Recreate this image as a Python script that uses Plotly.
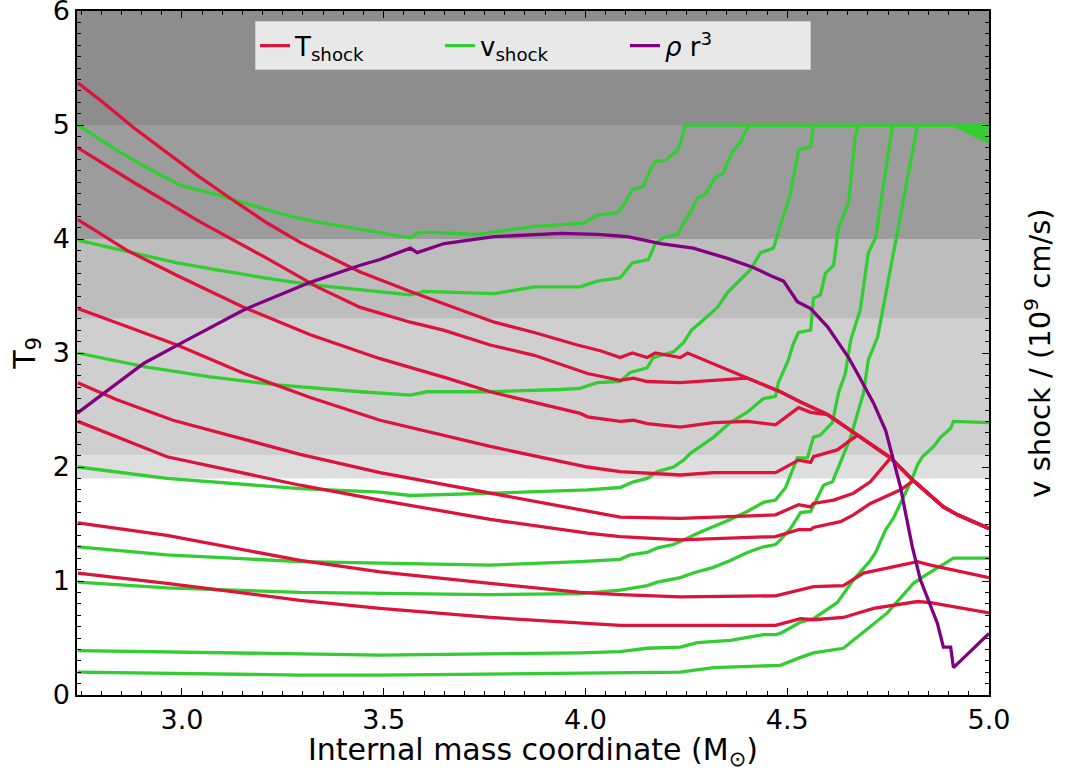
import plotly.graph_objects as go

# ---------------- data ----------------
# common descending branch that the T_shock curves join at large mass
env_m = [4.253, 4.401, 4.483, 4.533, 4.600, 4.674, 4.756, 4.813, 4.887, 4.922, 5.0]
env_T = [3.00, 2.78, 2.66, 2.57, 2.46, 2.28, 2.08, 1.88, 1.65, 1.58, 1.46]

# T_shock (T9) curves
r1_m = [2.742, 2.797, 2.879, 2.963, 3.045, 3.127, 3.211, 3.293, 3.442, 3.566, 3.690, 3.774, 3.873, 3.980, 4.037, 4.086, 4.116, 4.153, 4.173, 4.235, 4.253]
r1_T = [5.37, 5.22, 4.98, 4.76, 4.54, 4.34, 4.14, 3.97, 3.71, 3.54, 3.38, 3.27, 3.18, 3.07, 3.02, 2.96, 3.00, 2.96, 3.00, 2.96, 3.00]
r2_m = [2.742, 2.879, 3.045, 3.211, 3.335, 3.442, 3.566, 3.648, 3.764, 3.873, 4.005, 4.086, 4.119, 4.153, 4.235, 4.317, 4.401]
r2_T = [4.80, 4.50, 4.15, 3.83, 3.58, 3.40, 3.27, 3.20, 3.07, 2.98, 2.82, 2.76, 2.78, 2.75, 2.74, 2.76, 2.78]
r3_m = [2.742, 2.864, 2.988, 3.154, 3.318, 3.491, 3.657, 3.764, 3.821, 3.987, 4.005, 4.086, 4.119, 4.153, 4.235, 4.317, 4.401, 4.471, 4.528, 4.558, 4.600]
r3_T = [4.17, 3.90, 3.68, 3.40, 3.16, 2.95, 2.78, 2.66, 2.61, 2.47, 2.44, 2.40, 2.41, 2.38, 2.35, 2.39, 2.40, 2.37, 2.52, 2.48, 2.46]
r4_m = [2.742, 2.988, 3.154, 3.318, 3.491, 3.764, 4.005, 4.086, 4.235, 4.317, 4.471, 4.528, 4.558, 4.565, 4.624, 4.674]
r4_T = [3.39, 3.07, 2.82, 2.61, 2.41, 2.18, 2.00, 1.96, 1.93, 1.95, 1.95, 2.06, 2.04, 2.09, 2.15, 2.28]
r5_m = [2.742, 2.839, 2.978, 3.293, 3.491, 3.764, 4.005, 4.086, 4.235, 4.471, 4.528, 4.558, 4.565, 4.615, 4.664, 4.706, 4.756]
r5_T = [2.74, 2.59, 2.41, 2.11, 1.95, 1.77, 1.61, 1.56, 1.55, 1.58, 1.67, 1.65, 1.68, 1.71, 1.77, 1.87, 2.08]
r6_m = [2.742, 2.963, 3.293, 3.491, 3.764, 4.005, 4.086, 4.235, 4.471, 4.528, 4.558, 4.565, 4.632, 4.664, 4.706, 4.748, 4.781, 4.813]
r6_T = [2.40, 2.09, 1.84, 1.71, 1.54, 1.42, 1.39, 1.36, 1.39, 1.45, 1.45, 1.47, 1.52, 1.58, 1.68, 1.75, 1.80, 1.88]
r7_m = [2.742, 2.963, 3.293, 3.491, 3.764, 3.987, 4.086, 4.235, 4.471, 4.533, 4.565, 4.639, 4.689, 4.756, 4.823, 4.855, 5.0]
r7_T = [1.51, 1.40, 1.18, 1.08, 0.98, 0.90, 0.88, 0.86, 0.87, 0.92, 0.95, 0.96, 1.07, 1.12, 1.17, 1.14, 1.03]
r8_m = [2.742, 2.963, 3.293, 3.491, 3.764, 3.987, 4.086, 4.235, 4.471, 4.533, 4.565, 4.639, 4.714, 4.823, 4.855, 5.0]
r8_T = [1.07, 0.98, 0.83, 0.76, 0.68, 0.63, 0.61, 0.61, 0.61, 0.67, 0.66, 0.68, 0.76, 0.82, 0.81, 0.72]

# v_shock (1e9 cm/s) curves
g1_m = [2.742, 2.797, 2.847, 2.921, 2.997, 3.087, 3.169, 3.226, 3.293, 3.335, 3.417, 3.566, 3.583, 3.608, 3.732, 3.873, 3.997, 4.029, 4.079, 4.099, 4.116, 4.143, 4.161, 4.173, 4.198, 4.228, 4.235, 4.248, 5.0]
g1_v = [5.00, 4.87, 4.76, 4.61, 4.47, 4.39, 4.30, 4.24, 4.18, 4.15, 4.10, 4.01, 4.05, 4.06, 4.04, 4.11, 4.14, 4.21, 4.23, 4.32, 4.43, 4.46, 4.61, 4.68, 4.69, 4.78, 4.84, 5.00, 5.00]
g2_m = [2.742, 2.864, 2.988, 3.087, 3.204, 3.318, 3.459, 3.566, 3.600, 3.774, 3.873, 3.987, 4.029, 4.086, 4.116, 4.156, 4.173, 4.193, 4.228, 4.243, 4.263, 4.277, 4.297, 4.322, 4.342, 4.352, 4.367, 4.384, 4.396, 4.409, 4.912, 5.0]
g2_v = [3.99, 3.89, 3.79, 3.73, 3.66, 3.60, 3.55, 3.51, 3.54, 3.52, 3.58, 3.58, 3.63, 3.66, 3.79, 3.82, 3.96, 4.01, 4.04, 4.14, 4.25, 4.36, 4.39, 4.54, 4.58, 4.67, 4.78, 4.85, 4.94, 5.00, 5.00, 4.97]
g3_m = [2.742, 2.906, 3.070, 3.236, 3.442, 3.566, 3.608, 3.764, 3.938, 3.987, 4.029, 4.086, 4.111, 4.153, 4.168, 4.218, 4.243, 4.263, 4.292, 4.327, 4.352, 4.384, 4.409, 4.434, 4.466, 4.483, 4.508, 4.528, 4.558, 4.565, 4.912, 5.0]
g3_v = [3.00, 2.88, 2.79, 2.72, 2.66, 2.63, 2.66, 2.66, 2.68, 2.69, 2.74, 2.75, 2.83, 2.87, 2.96, 3.01, 3.09, 3.20, 3.29, 3.40, 3.53, 3.64, 3.73, 3.88, 3.92, 4.12, 4.40, 4.78, 4.81, 5.00, 5.00, 4.93]
g4_m = [2.742, 2.963, 3.293, 3.491, 3.566, 3.772, 4.005, 4.086, 4.119, 4.153, 4.178, 4.218, 4.243, 4.260, 4.285, 4.317, 4.359, 4.401, 4.441, 4.471, 4.478, 4.488, 4.503, 4.515, 4.528, 4.558, 4.565, 4.582, 4.595, 4.615, 4.627, 4.652, 4.669, 4.677, 4.912, 5.0]
g4_v = [2.00, 1.90, 1.81, 1.78, 1.75, 1.77, 1.80, 1.82, 1.87, 1.90, 1.96, 2.00, 2.06, 2.12, 2.18, 2.26, 2.39, 2.48, 2.60, 2.62, 2.74, 2.82, 2.94, 3.08, 3.18, 3.20, 3.48, 3.51, 3.70, 3.77, 4.10, 4.32, 4.91, 5.00, 5.00, 4.90]
g5_m = [2.742, 2.963, 3.293, 3.491, 3.764, 3.987, 4.086, 4.111, 4.153, 4.178, 4.218, 4.243, 4.285, 4.359, 4.401, 4.441, 4.471, 4.496, 4.525, 4.550, 4.565, 4.582, 4.612, 4.627, 4.644, 4.657, 4.681, 4.701, 4.719, 4.761, 4.912, 5.0]
g5_v = [1.30, 1.23, 1.17, 1.16, 1.14, 1.17, 1.19, 1.23, 1.25, 1.29, 1.32, 1.36, 1.43, 1.54, 1.61, 1.69, 1.71, 1.82, 2.08, 2.08, 2.26, 2.28, 2.39, 2.65, 2.82, 3.11, 3.38, 3.88, 4.01, 5.00, 5.00, 4.87]
g6_m = [2.742, 2.963, 3.293, 3.491, 3.764, 3.987, 4.086, 4.153, 4.178, 4.235, 4.267, 4.317, 4.359, 4.401, 4.441, 4.471, 4.483, 4.508, 4.533, 4.558, 4.575, 4.590, 4.612, 4.637, 4.657, 4.689, 4.701, 4.724, 4.763, 4.776, 4.823, 4.912, 5.0]
g6_v = [0.99, 0.94, 0.90, 0.89, 0.88, 0.89, 0.92, 0.96, 0.99, 1.03, 1.07, 1.12, 1.18, 1.25, 1.30, 1.32, 1.36, 1.46, 1.60, 1.61, 1.74, 1.84, 1.87, 2.08, 2.26, 2.65, 2.94, 3.14, 3.88, 4.14, 5.00, 5.00, 4.85]
g7_m = [2.742, 3.293, 3.491, 3.987, 4.086, 4.153, 4.235, 4.277, 4.359, 4.441, 4.471, 4.483, 4.533, 4.565, 4.624, 4.664, 4.706, 4.719, 4.744, 4.763, 4.781, 4.810, 4.823, 4.835, 4.863, 4.880, 4.905, 4.912, 5.0]
g7_v = [0.39, 0.36, 0.35, 0.37, 0.38, 0.41, 0.42, 0.46, 0.48, 0.53, 0.53, 0.54, 0.64, 0.67, 0.81, 1.01, 1.18, 1.25, 1.45, 1.55, 1.68, 1.90, 2.02, 2.09, 2.18, 2.26, 2.34, 2.40, 2.39]
g8_m = [2.742, 3.293, 3.491, 3.987, 4.235, 4.317, 4.471, 4.483, 4.533, 4.565, 4.639, 4.706, 4.748, 4.813, 4.838, 4.912, 5.0]
g8_v = [0.20, 0.175, 0.175, 0.19, 0.20, 0.24, 0.26, 0.26, 0.33, 0.37, 0.41, 0.60, 0.72, 0.98, 1.04, 1.20, 1.20]

# rho r^3 (scaled)
rho_m = [2.740, 2.785, 2.906, 3.005, 3.154, 3.318, 3.442, 3.491, 3.566, 3.583, 3.650, 3.774, 3.938, 4.029, 4.104, 4.186, 4.267, 4.352, 4.416, 4.458, 4.491, 4.525, 4.558, 4.600, 4.624, 4.652, 4.674, 4.714, 4.744, 4.761, 4.781, 4.793, 4.810, 4.830, 4.850, 4.872, 4.887, 4.905, 4.912, 5.0]
rho_v = [2.47, 2.59, 2.91, 3.10, 3.38, 3.62, 3.77, 3.82, 3.92, 3.88, 3.96, 4.02, 4.05, 4.04, 4.02, 3.96, 3.92, 3.83, 3.75, 3.68, 3.63, 3.45, 3.39, 3.23, 3.10, 2.96, 2.82, 2.56, 2.32, 2.09, 1.82, 1.60, 1.30, 1.01, 0.83, 0.63, 0.42, 0.42, 0.24, 0.54]

# shaded temperature bands (T9 limits) and their grey levels
band_lo = [1.9, 2.1, 3.3, 4.0, 5.0]
band_hi = [2.1, 3.3, 4.0, 5.0, 6.0]
band_col = ["#dedede", "#cfcfcf", "#bdbdbd", "#9c9c9c", "#8d8d8d"]

x_ticks = [3.0, 3.5, 4.0, 4.5, 5.0]
x_ticklabels = ["3.0", "3.5", "4.0", "4.5", "5.0"]

RED, GREEN, PURPLE = "#dc143c", "#32cd32", "#800080"
FONT = "DejaVu Sans"
LW = 3.3


def joined(m, t):
    last = m[-1]
    mm = list(m) + [e for e in env_m if e > last + 1e-6]
    tt = list(t) + [v for e, v in zip(env_m, env_T) if e > last + 1e-6]
    return mm, tt


fig = go.Figure()

greens = [(g1_m, g1_v), (g2_m, g2_v), (g3_m, g3_v), (g4_m, g4_v),
          (g5_m, g5_v), (g6_m, g6_v), (g7_m, g7_v), (g8_m, g8_v)]
for i, (m, v) in enumerate(greens):
    fig.add_trace(go.Scatter(x=m, y=v, mode="lines", line=dict(color=GREEN, width=LW),
                             name="v<sub>shock</sub>", legendgroup="v",
                             showlegend=(i == 0), legendrank=2))

reds = [joined(r1_m, r1_T), joined(r2_m, r2_T), joined(r3_m, r3_T), joined(r4_m, r4_T),
        joined(r5_m, r5_T), joined(r6_m, r6_T), (r7_m, r7_T), (r8_m, r8_T)]
for i, (m, t) in enumerate(reds):
    fig.add_trace(go.Scatter(x=m, y=t, mode="lines", line=dict(color=RED, width=LW),
                             name="T<sub>shock</sub>", legendgroup="T",
                             showlegend=(i == 0), legendrank=1))

fig.add_trace(go.Scatter(x=rho_m, y=rho_v, mode="lines", line=dict(color=PURPLE, width=LW),
                         name="<i>ρ</i> r<sup>3</sup>", legendrank=3))

# dummy trace on the right-hand axis so that it is drawn
fig.add_trace(go.Scatter(x=[None], y=[None], yaxis="y2", showlegend=False, hoverinfo="skip"))

shapes = []
for lo, hi, c in zip(band_lo, band_hi, band_col):
    shapes.append(dict(type="rect", xref="x domain", yref="y", x0=0, x1=1, y0=lo, y1=hi,
                       fillcolor=c, line=dict(width=0), layer="below"))

axis_common = dict(showline=True, linecolor="black", linewidth=1.5, ticks="inside",
                   tickcolor="black", tickwidth=1.2, ticklen=7, showgrid=False, zeroline=False,
                   automargin=False)
minor_common = dict(ticks="inside", ticklen=4, tickcolor="black", tickwidth=1, tick0=0)

fig.update_layout(
    width=1067, height=771,
    margin=dict(l=77, r=78, t=11, b=76, autoexpand=False),
    plot_bgcolor="white", paper_bgcolor="white",
    font=dict(family=FONT, size=26, color="black"),
    shapes=shapes,
    xaxis=dict(range=[2.74, 5.0], tickvals=x_ticks, ticktext=x_ticklabels, mirror="ticks",
               minor=dict(dtick=0.05, **minor_common), ticklabeloverflow="allow",
               title=dict(text="Internal mass coordinate (M<sub>⊙</sub>)", font=dict(size=30), standoff=6),
               tickfont=dict(size=27), **axis_common),
    yaxis=dict(range=[0, 6], dtick=1, tick0=0, ticklabeloverflow="allow",
               minor=dict(dtick=0.1, **minor_common),
               title=dict(text="T<sub>9</sub>", font=dict(size=30), standoff=8),
               tickfont=dict(size=27), **axis_common),
    yaxis2=dict(range=[0, 6], dtick=1, tick0=0, overlaying="y", side="right", showticklabels=False,
                minor=dict(dtick=0.1, **minor_common),
                title=dict(text="v shock / (10<sup>9</sup> cm/s)", font=dict(size=29), standoff=40),
                **axis_common),
    legend=dict(orientation="h", x=0.5, xanchor="center", y=0.985, yanchor="top",
                bgcolor="rgba(232,232,232,1)", bordercolor="#cccccc", borderwidth=1,
                font=dict(size=26), entrywidth=140, entrywidthmode="pixels"),
    showlegend=True,
)

fig.write_html("out.html")
